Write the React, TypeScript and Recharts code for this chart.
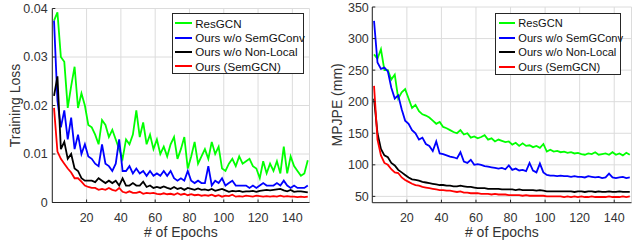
import { LineChart, Line, XAxis, YAxis, CartesianGrid } from 'recharts';

const FONT = '"Liberation Sans", Arial, Helvetica, sans-serif';
const AXIS = '#262626';

// every other epoch
const epochs = [
  1, 3, 5, 7, 9, 11, 13, 15, 17, 19,
  21, 23, 25, 27, 29, 31, 33, 35, 37, 39,
  41, 43, 45, 47, 49, 51, 53, 55, 57, 59,
  61, 63, 65, 67, 69, 71, 73, 75, 77, 79,
  81, 83, 85, 87, 89, 91, 93, 95, 97, 99,
  101, 103, 105, 107, 109, 111, 113, 115, 117, 119,
  121, 123, 125, 127, 129, 131, 133, 135, 137, 139,
  141, 143, 145, 147, 149,
];

// training loss
const lossResGCN = [
  0.0375, 0.0392, 0.030, 0.029, 0.0195, 0.024, 0.028, 0.0195, 0.0225, 0.020,
  0.016, 0.0155, 0.014, 0.012, 0.017, 0.016, 0.0135, 0.015, 0.013, 0.011,
  0.009, 0.013, 0.012, 0.014, 0.019, 0.0135, 0.0165, 0.012, 0.014, 0.011,
  0.013, 0.010, 0.0115, 0.0095, 0.012, 0.0135, 0.009, 0.011, 0.0135, 0.007,
  0.0095, 0.0125, 0.008, 0.0095, 0.011, 0.009, 0.0125, 0.010, 0.0115, 0.007,
  0.0065, 0.008, 0.009, 0.0075, 0.0095, 0.008, 0.0085, 0.009, 0.0075, 0.007,
  0.005, 0.0085, 0.006, 0.008, 0.0065, 0.0085, 0.006, 0.0115, 0.006, 0.0095,
  0.0075, 0.0065, 0.0055, 0.006, 0.0087,
];
const lossNoSemGConv = [
  0.0375, 0.021, 0.0155, 0.019, 0.013, 0.0175, 0.011, 0.014, 0.010, 0.012,
  0.0095, 0.009, 0.008, 0.0075, 0.012, 0.008, 0.0075, 0.0065, 0.008, 0.013,
  0.0065, 0.0065, 0.0075, 0.006, 0.007, 0.006, 0.0065, 0.0055, 0.0065, 0.0055,
  0.006, 0.0055, 0.0065, 0.0055, 0.0065, 0.005, 0.0045, 0.005, 0.0045, 0.0065,
  0.0045, 0.004, 0.0045, 0.004, 0.004, 0.0075, 0.0035, 0.0045, 0.004, 0.005,
  0.0035, 0.004, 0.0045, 0.0035, 0.0035, 0.0035, 0.0035, 0.003, 0.0035, 0.003,
  0.0035, 0.004, 0.0035, 0.0035, 0.0035, 0.004, 0.0035, 0.0045, 0.0035, 0.003,
  0.0035, 0.003, 0.003, 0.003, 0.0035,
];
const lossNoNonLocal = [
  0.022, 0.026, 0.011, 0.0125, 0.009, 0.010, 0.007, 0.0065, 0.005, 0.0045,
  0.0045, 0.0045, 0.0042, 0.005, 0.0045, 0.004, 0.0045, 0.004, 0.0045, 0.0035,
  0.005, 0.0035, 0.0035, 0.004, 0.0035, 0.0035, 0.0043, 0.0032, 0.0035, 0.003,
  0.0032, 0.003, 0.0033, 0.003, 0.0028, 0.0032, 0.0028, 0.003, 0.0026, 0.003,
  0.0028, 0.0026, 0.0029, 0.0026, 0.0027, 0.0025, 0.0028, 0.0024, 0.0026, 0.0028,
  0.0025, 0.0022, 0.0024, 0.0023, 0.0024, 0.0022, 0.0023, 0.0023, 0.0024, 0.0022,
  0.0024, 0.0025, 0.0026, 0.0025, 0.0026, 0.0027, 0.0028, 0.0025, 0.0023, 0.0026,
  0.0022, 0.0023, 0.0023, 0.0022, 0.0021,
];
const lossSemGCN = [
  0.0195, 0.0105, 0.009, 0.008, 0.007, 0.0062, 0.005, 0.005, 0.0043, 0.0035,
  0.0032, 0.003, 0.003, 0.0026, 0.0028, 0.0026, 0.003, 0.0026, 0.0024, 0.003,
  0.0022, 0.002, 0.0023, 0.002, 0.002, 0.0022, 0.0018, 0.002, 0.0019, 0.002,
  0.0018, 0.0017, 0.0019, 0.0017, 0.0018, 0.0016, 0.0019, 0.0016, 0.0018, 0.0015,
  0.0017, 0.0015, 0.0016, 0.0014, 0.0015, 0.0014, 0.0016, 0.0013, 0.0015, 0.0012,
  0.0014, 0.0013, 0.0016, 0.0012, 0.0013, 0.0012, 0.0014, 0.0013, 0.0012, 0.0014,
  0.0013, 0.0012, 0.0013, 0.0012, 0.0013, 0.0012, 0.0014, 0.0012, 0.0013, 0.0012,
  0.0012, 0.0011, 0.0012, 0.0011, 0.0012,
];

// MPJPE (mm)
const mpjpeResGCN = [
  275, 268, 283, 250, 250, 235, 243, 205, 215, 220,
  205, 190, 195, 185, 180, 178, 175, 170, 165, 168,
  160, 158, 155, 152, 150, 155, 148, 150, 143, 145,
  142, 144, 147, 140, 142, 137, 140, 138, 136, 137,
  132, 135, 130, 134, 130, 131, 128, 130, 127, 133,
  121, 124, 121, 122, 120, 121, 119, 120, 118, 119,
  117, 116, 118, 117, 120, 116, 117, 118, 116, 120,
  116, 118, 115, 119, 116,
];
const mpjpeNoSemGConv = [
  328, 262, 252, 254, 248, 222, 205, 210, 188, 170,
  165, 155, 150, 140, 143, 133, 130, 122, 137, 118,
  117, 115, 113, 112, 110, 120, 105, 103, 108, 100,
  101, 100, 98, 97, 96, 95, 94, 95, 93, 99,
  92, 94, 91, 92, 90, 103, 91, 88, 102, 88,
  84, 83, 83, 82, 83, 82, 82, 81, 82, 81,
  81, 80, 82, 81, 80, 81, 79, 80, 86, 80,
  79, 80, 81, 79, 80,
];
const mpjpeNoNonLocal = [
  205, 150, 125, 115, 112, 103, 99, 92, 88, 84,
  80, 77, 76, 75, 73, 72, 71, 70, 69, 68,
  68, 67, 67, 66, 66, 67, 66, 65, 65, 64,
  63, 63, 63, 62, 62, 62, 62, 61, 61, 61,
  61, 60, 61, 60, 60, 60, 60, 59, 60, 59,
  58, 58, 58, 58, 58, 58, 58, 58, 57, 58,
  58, 57, 58, 58, 57, 58, 57, 57, 58, 57,
  57, 58, 57, 57, 57,
];
const mpjpeSemGCN = [
  225, 140, 115, 103, 100, 93, 88, 87, 80, 76,
  73, 70, 68, 67, 65, 64, 63, 62, 61, 60,
  60, 59, 59, 58, 57, 58, 56, 56, 55, 55,
  55, 54, 54, 54, 53, 54, 53, 53, 53, 52,
  52, 52, 52, 51, 52, 51, 51, 51, 51, 51,
  50, 50, 50, 50, 50, 49, 50, 49, 50, 49,
  50, 49, 49, 50, 49, 49, 49, 49, 50, 49,
  49, 49, 50, 49, 50,
];

const epochTicks = [20, 40, 60, 80, 100, 120, 140];
const lossTicks = [0, 0.01, 0.02, 0.03, 0.04];
const mpjpeTicks = [50, 100, 150, 200, 250, 300, 350];

const series = [
  { key: 'resgcn', name: 'ResGCN', color: '#00ff00' },
  { key: 'noSemGConv', name: 'Ours w/o SemGConv', color: '#0000ff' },
  { key: 'noNonLocal', name: 'Ours w/o Non-Local', color: '#000000' },
  { key: 'semgcn', name: 'Ours (SemGCN)', color: '#ff0000' },
];

const lossRows = epochs.map((epoch, i) => ({
  epoch,
  resgcn: lossResGCN[i],
  noSemGConv: lossNoSemGConv[i],
  noNonLocal: lossNoNonLocal[i],
  semgcn: lossSemGCN[i],
}));

const mpjpeRows = epochs.map((epoch, i) => ({
  epoch,
  resgcn: mpjpeResGCN[i],
  noSemGConv: mpjpeNoSemGConv[i],
  noNonLocal: mpjpeNoNonLocal[i],
  semgcn: mpjpeSemGCN[i],
}));

interface LegendBoxProps {
  left: number;
  top: number;
  width: number;
  height: number;
  rowTop: number;
  rowGap: number;
  fontSize: number;
  lineX: number;
  lineW: number;
}

function LegendBox({ left, top, width, height, rowTop, rowGap, fontSize, lineX, lineW }: LegendBoxProps) {
  return (
    <div
      style={{
        position: 'absolute',
        left,
        top,
        width,
        height,
        boxSizing: 'border-box',
        border: `1px solid ${AXIS}`,
        background: '#fff',
        fontFamily: FONT,
        fontSize,
        color: '#111',
      }}
    >
      {series.map((s, i) => (
        <div
          key={s.key}
          style={{
            position: 'absolute',
            left: 0,
            top: rowTop + i * rowGap - rowGap / 2,
            height: rowGap,
            display: 'flex',
            alignItems: 'center',
            whiteSpace: 'nowrap',
          }}
        >
          <span style={{ display: 'inline-block', marginLeft: lineX, width: lineW, borderTop: `2px solid ${s.color}` }} />
          <span style={{ marginLeft: 3 }}>{s.name}</span>
        </div>
      ))}
    </div>
  );
}

interface PanelProps {
  data: typeof lossRows;
  left: number;
  marginTop: number;
  marginRight: number;
  yAxisWidth: number;
  xAxisHeight: number;
  yDomain: [number, number];
  yTicks: number[];
  yLabel: string;
  yLabelX: number;
  yTickGap: number;
}

function Panel({ data, left, marginTop, marginRight, yAxisWidth, xAxisHeight, yDomain, yTicks, yLabel, yLabelX, yTickGap }: PanelProps) {
  const tickStyle = { fill: '#333', fontSize: 12.5, fontFamily: FONT };
  return (
    <div style={{ position: 'absolute', left, top: 0 }}>
      <LineChart
        width={316}
        height={241}
        data={data}
        margin={{ top: marginTop, right: marginRight, bottom: 0, left: 0 }}
        style={{ fontFamily: FONT }}
      >
        <CartesianGrid stroke="#dcdcdc" strokeWidth={1} />
        <XAxis
          dataKey="epoch"
          type="number"
          domain={[0, 150]}
          ticks={epochTicks}
          allowDataOverflow
          height={xAxisHeight}
          stroke={AXIS}
          tickSize={-3}
          tickMargin={13.5}
          tick={tickStyle}
          label={(props: any) => {
            const vb = props.viewBox;
            return (
              <text x={vb.x + vb.width / 2} y={237} textAnchor="middle" fill="#333" fontSize={14} fontFamily={FONT}>
                # of Epochs
              </text>
            );
          }}
        />
        <XAxis
          xAxisId="top"
          orientation="top"
          type="number"
          domain={[0, 150]}
          ticks={epochTicks}
          height={0}
          stroke={AXIS}
          tickSize={-3}
          tick={false}
        />
        <YAxis
          type="number"
          domain={yDomain}
          ticks={yTicks}
          allowDataOverflow
          width={yAxisWidth}
          stroke={AXIS}
          tickSize={-3}
          tickMargin={yTickGap + 3}
          tick={tickStyle}
          label={(props: any) => {
            const vb = props.viewBox;
            const cy = vb.y + vb.height / 2;
            return (
              <text
                x={yLabelX}
                y={cy}
                transform={`rotate(-90, ${yLabelX}, ${cy})`}
                textAnchor="middle"
                fill="#333"
                fontSize={14}
                fontFamily={FONT}
              >
                {yLabel}
              </text>
            );
          }}
        />
        <YAxis
          yAxisId="right"
          orientation="right"
          type="number"
          domain={yDomain}
          ticks={yTicks}
          width={0}
          stroke={AXIS}
          tickSize={-3}
          tick={false}
        />
        {series.map((s) => (
          <Line
            key={s.key}
            type="linear"
            dataKey={s.key}
            name={s.name}
            stroke={s.color}
            strokeWidth={1.8}
            dot={false}
            isAnimationActive={false}
          />
        ))}
      </LineChart>
    </div>
  );
}

export default function App() {
  return (
    <div style={{ position: 'absolute', left: 0, top: 0, width: 632, height: 241, overflow: 'hidden', background: '#fff' }}>
      <Panel
        data={lossRows}
        left={0}
        marginTop={8.5}
        marginRight={6.5}
        yAxisWidth={52.3}
        xAxisHeight={38.5}
        yDomain={[0, 0.04]}
        yTicks={lossTicks}
        yLabel="Training Loss"
        yLabelX={19.5}
        yTickGap={4.6}
      />
      <Panel
        data={mpjpeRows}
        left={316}
        marginTop={7}
        marginRight={0.5}
        yAxisWidth={56.3}
        xAxisHeight={38.3}
        yDomain={[40, 350]}
        yTicks={mpjpeTicks}
        yLabel="MPJPE (mm)"
        yLabelX={26}
        yTickGap={3.5}
      />
      <LegendBox left={171.7} top={13.3} width={132.6} height={60.7} rowTop={9} rowGap={14.3} fontSize={11.6} lineX={2.5} lineW={17} />
      <LegendBox left={495} top={12.7} width={126} height={62.3} rowTop={9.6} rowGap={14.6} fontSize={11.1} lineX={2.7} lineW={16.6} />
    </div>
  );
}
